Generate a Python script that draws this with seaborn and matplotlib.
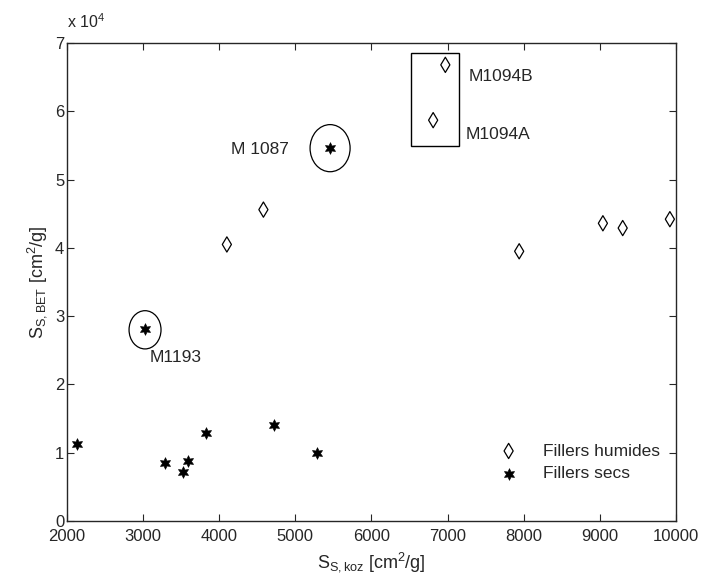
import pandas as pd
import matplotlib.pyplot as plt
import seaborn as sns
from matplotlib.patches import Ellipse, Rectangle
from matplotlib.ticker import FuncFormatter

# Fillers humides (diamonds)
humid_x = [4100, 4580, 6810, 6970, 7940, 9040, 9300, 9920]
humid_y = [40500, 45600, 58700, 66800, 39500, 43600, 42900, 44200]

# Fillers secs (stars)
dry_x = [2130, 3025, 3290, 3525, 3590, 3830, 4720, 5285, 5460]
dry_y = [11300, 28100, 8500, 7200, 8800, 12900, 14100, 9900, 54600]

humid = pd.DataFrame({"koz": humid_x, "bet": humid_y})
dry = pd.DataFrame({"koz": dry_x, "bet": dry_y})

sns.set_style("ticks")
plt.rcParams["font.family"] = ["Liberation Sans", "DejaVu Sans"]
plt.rcParams["mathtext.fontset"] = "custom"
plt.rcParams["mathtext.rm"] = "Liberation Sans"
plt.rcParams["mathtext.it"] = "Liberation Sans"

fig = plt.figure(figsize=(7.01, 5.78), dpi=100)
ax = fig.add_axes([0.0956, 0.0986, 0.8687, 0.827])

sns.scatterplot(data=humid, x="koz", y="bet", marker="d", s=60,
                facecolor="none", edgecolor="black", linewidth=0.9,
                label="Fillers humides", ax=ax)
sns.scatterplot(data=dry, x="koz", y="bet", marker=(6, 1, 0), s=70,
                color="black", edgecolor="black", linewidth=0.5,
                label="Fillers secs", ax=ax)

# annotations
ax.add_patch(Ellipse((5456, 54600), 526, 6900, fill=False, color="black", lw=0.9))
ax.add_patch(Ellipse((3025, 28000), 420, 5600, fill=False, color="black", lw=0.9))
ax.add_patch(Rectangle((6520, 54900), 630, 13600, fill=False, color="black", lw=1))
ax.text(4150, 53800, "M 1087", fontsize=12.5)
ax.text(3080, 23300, "M1193", fontsize=12.5)
ax.text(7280, 64400, "M1094B", fontsize=12.5)
ax.text(7240, 56000, "M1094A", fontsize=12.5)

ax.set_xlim(2000, 10000)
ax.set_ylim(0, 70000)
ax.set_xticks(range(2000, 10001, 1000))
ax.set_yticks(range(0, 70001, 10000))
ax.yaxis.set_major_formatter(FuncFormatter(lambda v, p: f"{v/1e4:g}"))
ax.tick_params(direction="in", top=True, right=True, labelsize=12, length=5)
ax.tick_params(axis="x", pad=6)
ax.tick_params(axis="y", pad=2)
for sp in ax.spines.values():
    sp.set_linewidth(1)
    sp.set_visible(True)

ax.text(0, 1.025, r"x 10$^{4}$", transform=ax.transAxes, fontsize=11.5, va="bottom")
ax.set_xlabel(r"S$_{S,koz}$ [cm$^2$/g]", fontsize=13, labelpad=4)
ax.set_ylabel(r"S$_{S,BET}$ [cm$^2$/g]", fontsize=13, labelpad=4)

leg = ax.legend(loc="lower right", frameon=False, fontsize=12.5,
                bbox_to_anchor=(1.0, 0.05), handletextpad=1.0, labelspacing=0.45)

fig.savefig("out.png", dpi=100)
